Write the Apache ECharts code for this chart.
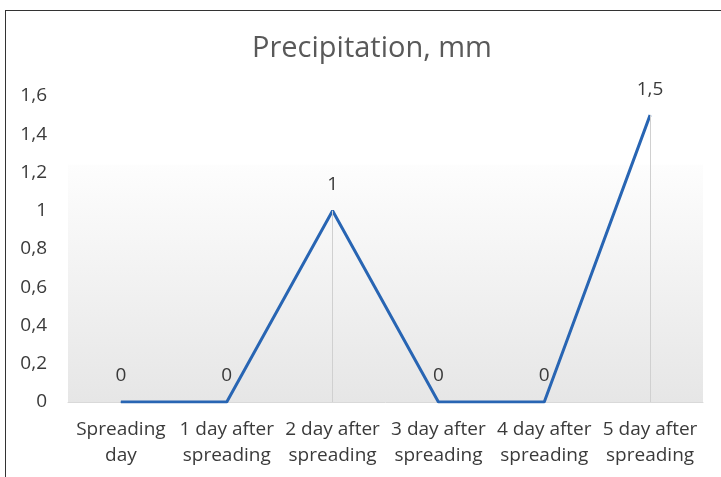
<!DOCTYPE html>
<html><head><meta charset="utf-8">
<script src="https://cdn.jsdelivr.net/npm/echarts@6/dist/echarts.min.js"></script>
<style>
html,body{margin:0;padding:0;background:#fff;}
#c{width:721px;height:477px;position:absolute;left:0;top:0;}
#b{position:absolute;left:5px;top:10px;width:800px;height:600px;border-left:1.5px solid #333;border-top:1.5px solid #333;pointer-events:none;}
</style></head>
<body>
<div id="c"></div><div id="b"></div>
<script>
const titleText = 'Precipitation, mm';
const categories = ['Spreading\nday','1 day after\nspreading','2 day after\nspreading','3 day after\nspreading','4 day after\nspreading','5 day after\nspreading'];
const values = [0, 0, 1, 0, 0, 1.5];
const yMin = 0, yMax = 1.6, yStep = 0.2;
const shadeTop = 1.24;

const fmt = v => String(Math.round(v*10)/10).replace('.', ',');
const font = '"Open Sans", sans-serif';

const drops = values.map((v,i)=>v>0?[{coord:[i,0]},{coord:[i,v]}]:null).filter(Boolean);

const chart = echarts.init(document.getElementById('c'));
chart.setOption({
  animation:false,
  title:{text:titleText,left:367,textAlign:'center',top:29,textStyle:{fontFamily:font,fontSize:29,fontWeight:'normal',color:'#595959'}},
  grid:{left:68,right:18,top:96,bottom:75},
  xAxis:{type:'category',data:categories,boundaryGap:true,
    axisLine:{lineStyle:{color:'#d9d9d9',width:1}},axisTick:{show:false},
    axisLabel:{fontFamily:font,fontSize:19,color:'#3a3a3a',lineHeight:26,margin:15,interval:0}},
  yAxis:{type:'value',min:yMin,max:yMax,interval:yStep,
    axisLine:{show:false},axisTick:{show:false},splitLine:{show:false},
    axisLabel:{fontFamily:font,fontSize:19,color:'#3a3a3a',margin:21,formatter:fmt}},
  series:[{type:'line',data:values,symbol:'circle',symbolSize:1,showSymbol:true,
    itemStyle:{color:'#2865b3'},
    lineStyle:{color:'#2865b3',width:3},
    label:{show:true,position:'top',distance:16,fontFamily:font,fontSize:19,color:'#3a3a3a',formatter:p=>fmt(p.value)},
    markLine:{silent:true,symbol:'none',label:{show:false},lineStyle:{color:'#d0d0d0',type:'solid',width:1},data:drops},
    markArea:{silent:true,itemStyle:{color:{type:'linear',x:0,y:0,x2:0,y2:1,colorStops:[{offset:0,color:'#fdfdfd'},{offset:1,color:'#e6e6e6'}]}},data:[[{yAxis:shadeTop},{yAxis:0}]]}
  }]
});
</script>
</body></html>
